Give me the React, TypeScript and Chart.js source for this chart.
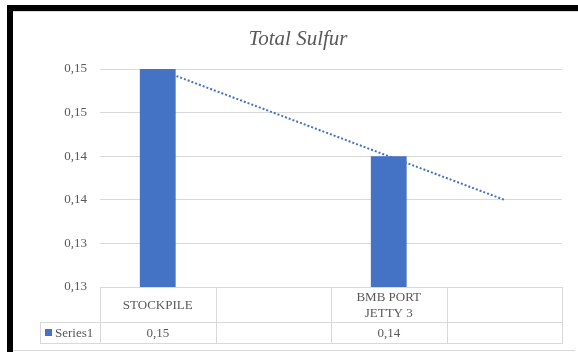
import React, { useEffect, useRef } from "react";
import { Chart, registerables } from "chart.js";

Chart.register(...registerables);

const categories = ["STOCKPILE", "", "BMB PORT\nJETTY 3", ""];
const seriesName = "Series1";
const sulfurValues = [0.15, null, 0.142, null];
const trendValues = [0.15, 0.146, 0.142, 0.138];
const yTicks = [0.13, 0.134, 0.138, 0.142, 0.146, 0.15];
const chartTitle = "Total Sulfur";

const BLUE = "#4472c4";
const GRAY_TEXT = "#595959";
const LINE = "#d9d9d9";
const FONT = '"Liberation Serif"';

const fmt = (v: number | null) => (v == null ? "" : v.toFixed(2).replace(".", ","));

const decorPlugin = {
  id: "decor",
  beforeDraw(chart: any) {
    const ctx = chart.ctx;
    ctx.save();
    ctx.fillStyle = "#ffffff";
    ctx.fillRect(0, 0, chart.width, chart.height);
    ctx.fillStyle = "#000000";
    ctx.fillRect(7, 5, chart.width - 7, 6);
    ctx.fillRect(7, 5, 6, chart.height - 5);
    ctx.strokeStyle = LINE;
    ctx.lineWidth = 1;
    ctx.beginPath();
    ctx.moveTo(13, 11.5);
    ctx.lineTo(chart.width, 11.5);
    ctx.moveTo(13, 350.5);
    ctx.lineTo(chart.width - 3, 350.5);
    ctx.stroke();
    ctx.restore();
  },
  afterDraw(chart: any) {
    const ctx = chart.ctx;
    const area = chart.chartArea;
    const xs = chart.scales.x;
    ctx.save();
    const n = categories.length;
    const colW = (area.right - area.left) / n;
    const top = Math.round(area.bottom);
    const rowMid = 322;
    const bottom = 343;
    const legendLeft = 40;
    ctx.strokeStyle = LINE;
    ctx.lineWidth = 1;
    ctx.beginPath();
    ctx.moveTo(area.left, top + 0.5);
    ctx.lineTo(area.right, top + 0.5);
    ctx.moveTo(legendLeft, rowMid + 0.5);
    ctx.lineTo(area.right, rowMid + 0.5);
    ctx.moveTo(legendLeft, bottom + 0.5);
    ctx.lineTo(area.right, bottom + 0.5);
    for (let i = 0; i <= n; i++) {
      const x = Math.round(area.left + colW * i) + 0.5;
      ctx.moveTo(x, top);
      ctx.lineTo(x, bottom + 1);
    }
    ctx.moveTo(legendLeft + 0.5, rowMid);
    ctx.lineTo(legendLeft + 0.5, bottom + 1);
    ctx.stroke();

    ctx.fillStyle = GRAY_TEXT;
    ctx.font = "13px " + FONT;
    ctx.textBaseline = "middle";
    ctx.textAlign = "center";
    for (let i = 0; i < n; i++) {
      const cx = xs.getPixelForValue(i);
      const lines = categories[i].split("\n");
      const lh = 16;
      const startY = (top + rowMid) / 2 + 1 - ((lines.length - 1) * lh) / 2;
      lines.forEach((ln, k) => ctx.fillText(ln, cx, startY + k * lh));
      ctx.fillText(fmt(sulfurValues[i]), cx, (rowMid + bottom) / 2 + 1);
    }
    ctx.fillStyle = BLUE;
    ctx.fillRect(45, 329, 7, 7);
    ctx.fillStyle = GRAY_TEXT;
    ctx.textAlign = "left";
    ctx.fillText(seriesName, 55, (rowMid + bottom) / 2 + 1);
    ctx.restore();
  },
};

export default function App() {
  const ref = useRef<HTMLCanvasElement | null>(null);
  useEffect(() => {
    if (!ref.current) return;
    const chart = new Chart(ref.current, {
      type: "bar",
      data: {
        labels: categories,
        datasets: [
          {
            type: "line",
            label: "Trend",
            data: trendValues,
            borderColor: BLUE,
            borderWidth: 2,
            borderDash: [2, 2],
            pointRadius: 0,
            fill: false,
            order: 0,
          } as any,
          {
            type: "bar",
            label: seriesName,
            data: sulfurValues,
            backgroundColor: BLUE,
            categoryPercentage: 1,
            barPercentage: 0.31,
            order: 1,
          },
        ],
      },
      options: {
        responsive: false,
        animation: false,
        devicePixelRatio: 1,
        layout: { padding: { left: 13, right: 16, top: 69, bottom: 65 } },
        plugins: {
          legend: { display: false },
          title: { display: false },
          tooltip: { enabled: false },
        },
        scales: {
          x: { type: "category", display: false, offset: true },
          y: {
            min: 0.13,
            max: 0.15,
            afterFit: (s: any) => {
              s.width = 87;
            },
            afterBuildTicks: (s: any) => {
              s.ticks = yTicks.map((v) => ({ value: v }));
            },
            grid: { color: LINE, drawTicks: false, lineWidth: 1 },
            border: { display: false },
            ticks: {
              padding: 13,
              color: GRAY_TEXT,
              font: { family: FONT, size: 13 },
              callback: (v: any) => fmt(Number(v)),
            },
          },
        },
      },
      plugins: [decorPlugin],
    });
    return () => chart.destroy();
  }, []);
  return (
    <div style={{ position: "absolute", left: 0, top: 0, width: 578, height: 352 }}>
      <canvas ref={ref} width={578} height={352} />
      <div
        style={{
          position: "absolute",
          left: 148,
          top: 28,
          width: 300,
          textAlign: "center",
          fontFamily: "'Liberation Serif', 'Times New Roman', serif",
          fontStyle: "italic",
          fontSize: 21,
          lineHeight: "21px",
          color: GRAY_TEXT,
          whiteSpace: "nowrap",
        }}
      >
        {chartTitle}
      </div>
    </div>
  );
}
